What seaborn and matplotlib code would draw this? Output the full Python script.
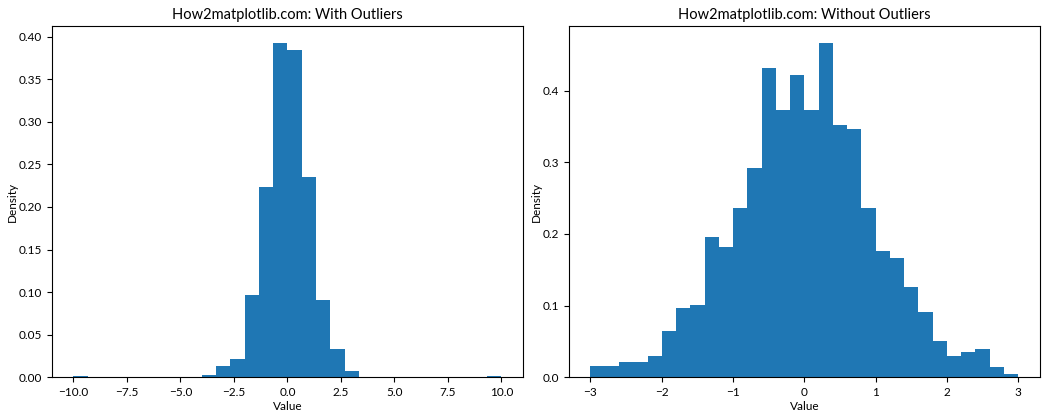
import matplotlib
matplotlib.use("Agg")
import matplotlib.pyplot as plt
import seaborn as sns
import numpy as np

plt.rcParams['font.family'] = ['Lato', 'DejaVu Sans']
plt.rcParams['xtick.labelsize'] = 8.5
plt.rcParams['ytick.labelsize'] = 8.5
plt.rcParams['axes.labelsize'] = 8.5
plt.rcParams['axes.titlesize'] = 10.5

# Left: with outliers, 30 bins on [-10, 10]
left_edges = list(np.linspace(-10, 10, 31))
left_density = [0.0015, 0, 0, 0, 0, 0, 0, 0, 0,
                0.0024, 0.0135, 0.021, 0.0965, 0.2235, 0.393, 0.3847,
                0.2353, 0.0906, 0.033, 0.0071,
                0, 0, 0, 0, 0, 0, 0, 0, 0, 0.0015]

# Right: without outliers, 30 bins on [-3, 3]
right_edges = list(np.linspace(-3, 3, 31))
right_density = [0.015, 0.015, 0.0205, 0.0205, 0.030, 0.065, 0.0966, 0.1004,
                 0.1956, 0.1816, 0.2362, 0.2927, 0.4323, 0.3725, 0.4225,
                 0.3725, 0.4669, 0.3525, 0.347, 0.2362, 0.176, 0.166,
                 0.1255, 0.0905, 0.050, 0.030, 0.0355, 0.0397, 0.0145, 0.005]

titles = ["How2matplotlib.com: With Outliers", "How2matplotlib.com: Without Outliers"]

fig, axes = plt.subplots(1, 2, figsize=(10.5, 4.2), dpi=100)
axes[0].set_position([0.0495, 0.102, 0.498 - 0.0495, 0.836])
axes[1].set_position([0.542, 0.102, 0.990 - 0.542, 0.836])

for ax, edges, dens, title in zip(axes, [left_edges, right_edges],
                                  [left_density, right_density], titles):
    centers = [(edges[i] + edges[i + 1]) / 2 for i in range(len(dens))]
    sns.histplot(x=centers, weights=dens, bins=edges, ax=ax, color='#1f77b4',
                 alpha=1, linewidth=0, edgecolor='none')
    ax.set_title(title, pad=5)
    ax.set_xlabel("Value", labelpad=2)
    ax.set_ylabel("Density", labelpad=0.5)
    span = edges[-1] - edges[0]
    ax.set_xlim(edges[0] - 0.05 * span, edges[-1] + 0.05 * span)
    ax.set_ylim(0, max(dens) * 1.05)

axes[0].set_xticks([-10, -7.5, -5, -2.5, 0, 2.5, 5, 7.5, 10])
axes[0].set_yticks([0, 0.05, 0.10, 0.15, 0.20, 0.25, 0.30, 0.35, 0.40])
axes[0].set_yticklabels(["0.00", "0.05", "0.10", "0.15", "0.20", "0.25", "0.30", "0.35", "0.40"])

fig.savefig("out.png", dpi=100)
